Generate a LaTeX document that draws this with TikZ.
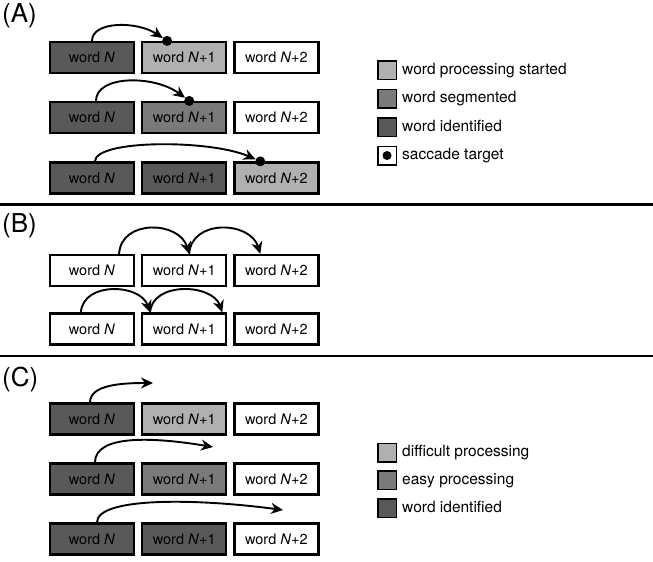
\documentclass[tikz,border=0pt]{standalone}
\usepackage{fontspec}
\setmainfont{TeX Gyre Heros}
\usetikzlibrary{positioning,arrows.meta,calc}
\definecolor{lightgr}{gray}{0.69}
\definecolor{midgr}{gray}{0.48}
\definecolor{darkgr}{gray}{0.35}
\tikzset{
    word/.style = {
        draw,
        line width=2.2pt,
        minimum width=84pt,
        minimum height=31pt,
        inner sep=0pt,
        font=\fontsize{14.5}{17}\selectfont,
        },
    begun/.style = {
        fill = lightgr,
        },
    segmented/.style = {
        fill = midgr,
        },
    identified/.style = {
        fill = darkgr,
        },
    dot/.style = {
        circle,
        fill,
        inner sep=0pt,
        minimum size=10pt,
        },
    saccade/.style = {
        line width=1.9pt,
        -{Stealth[length=12pt,width=11pt]},
        },
    key/.style = {
        draw,
        line width=1.5pt,
        minimum size=18.5pt,
        inner sep=0pt,
        },
    keytext/.style = {
        inner sep=0pt,
        text height=11pt,
        text depth=3pt,
        font=\fontsize{15.5}{18}\selectfont,
        },
    panel/.style = {
        anchor=base west,
        inner sep=0pt,
        font=\fontsize{26}{30}\selectfont,
        },
    rule/.style = {
        line width=2.4pt,
        },
}

\begin{document}
\begin{tikzpicture}[x=1pt, y=-1pt, node distance=6pt]
            \useasboundingbox (0,0) rectangle (653,562);

            % (A)
            \node[panel] (pa) at (2,23) {(A)};
            \node[word, identified] (a11) at (92,57.5) {word \textit{N}};
            \node[word, begun, right=of a11] (a12) {word \textit{N}+1};
            \node[word, right=of a12] (a13) {word \textit{N}+2};
            \node[word, identified] (a21) at (92,117.5) {word \textit{N}};
            \node[word, segmented, right=of a21] (a22) {word \textit{N}+1};
            \node[word, right=of a22] (a23) {word \textit{N}+2};
            \node[word, identified] (a31) at (92,178) {word \textit{N}};
            \node[word, identified, right=of a31] (a32) {word \textit{N}+1};
            \node[word, begun, right=of a32] (a33) {word \textit{N}+2};

            \node[dot] (a1d) at ([xshift=26pt]a12.north west) {};
            \node[dot] (a2d) at ([xshift=5pt]a22.north) {};
            \node[dot] (a3d) at ([xshift=27pt]a33.north west) {};
            \coordinate (a2s) at ([xshift=4pt]a21.north);
            \coordinate (a3s) at ([xshift=3pt]a31.north);

            \draw[saccade] (a11.north) .. controls +(0,-20) and +(-30,-20) .. (a1d);
            \draw[saccade] (a2s) .. controls +(0,-26) and +(-35,-26) .. (a2d);
            \draw[saccade] (a3s) .. controls +(0,-22) and +(-50,-22) .. (a3d);

            \node[key, begun] (k1) at (387,70) {};
            \node[keytext, right=5pt of k1] (t1) {word processing started};
            \node[key, segmented] (k2) at (387,98.5) {};
            \node[keytext, right=5pt of k2] (t2) {word segmented};
            \node[key, identified] (k3) at (387,127) {};
            \node[keytext, right=5pt of k3] (t3) {word identified};
            \node[key, fill=white] (k4) at (387,155.5) {};
            \node[dot, minimum size=9pt] (k4d) at (k4.center) {};
            \node[keytext, right=5pt of k4] (t4) {saccade target};

            \draw[rule] (0,204.5) -- (653,204.5);

            % (B)
            \node[panel] (pb) at (2,232) {(B)};
            \node[word] (b11) at (92,270.5) {word \textit{N}};
            \node[word, right=of b11] (b12) {word \textit{N}+1};
            \node[word, right=of b12] (b13) {word \textit{N}+2};
            \node[word] (b21) at (92,329) {word \textit{N}};
            \node[word, right=of b21] (b22) {word \textit{N}+1};
            \node[word, right=of b22] (b23) {word \textit{N}+2};

            \coordinate (b1s) at ([xshift=-16pt]b11.north east);
            \coordinate (b1m) at ([xshift=5pt]b12.north);
            \coordinate (b1e) at ([xshift=27pt]b13.north west);
            \coordinate (b2s) at ([xshift=32pt]b21.north west);
            \coordinate (b2m) at ([xshift=9pt]b22.north west);
            \coordinate (b2e) at ([xshift=-5pt]b22.north east);

            \draw[saccade] (b1s) .. controls +(2,-35) and +(-10,-33) .. (b1m);
            \draw[saccade] (b1m) .. controls +(2,-35) and +(-10,-33) .. (b1e);
            \draw[saccade] (b2s) .. controls +(2,-31) and +(-10,-29) .. (b2m);
            \draw[saccade] (b2m) .. controls +(2,-31) and +(-10,-29) .. (b2e);

            \draw[rule] (0,356) -- (653,356);

            % (C)
            \node[panel] (pc) at (2,386) {(C)};
            \node[word, identified] (c11) at (92,419) {word \textit{N}};
            \node[word, begun, right=of c11] (c12) {word \textit{N}+1};
            \node[word, right=of c12] (c13) {word \textit{N}+2};
            \node[word, identified] (c21) at (92,479) {word \textit{N}};
            \node[word, segmented, right=of c21] (c22) {word \textit{N}+1};
            \node[word, right=of c22] (c23) {word \textit{N}+2};
            \node[word, identified] (c31) at (92,539) {word \textit{N}};
            \node[word, identified, right=of c31] (c32) {word \textit{N}+1};
            \node[word, right=of c32] (c33) {word \textit{N}+2};

            \coordinate (c1s) at ([xshift=-2pt]c11.north);
            \coordinate (c2s) at ([xshift=3pt]c21.north);
            \coordinate (c3s) at ([xshift=5pt]c31.north);
            \coordinate (c1e) at (153,383);
            \coordinate (c2e) at (213,447);
            \coordinate (c3e) at (283,510);

            \draw[saccade] (c1s) .. controls +(0,-18) and +(-30,0) .. (c1e);
            \draw[saccade] (c2s) .. controls +(0,-28) and +(-60,-10) .. (c2e);
            \draw[saccade] (c3s) .. controls +(0,-25) and +(-90,-12) .. (c3e);

            \node[key, begun] (k5) at (387,452.5) {};
            \node[keytext, right=5pt of k5] (t5) {difficult processing};
            \node[key, segmented] (k6) at (387,480) {};
            \node[keytext, right=5pt of k6] (t6) {easy processing};
            \node[key, identified] (k7) at (387,508) {};
            \node[keytext, right=5pt of k7] (t7) {word identified};
\end{tikzpicture}
\end{document}
